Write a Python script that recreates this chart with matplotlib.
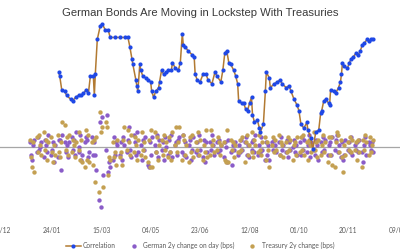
import matplotlib
matplotlib.use("Agg")
import matplotlib.pyplot as plt
import matplotlib.dates as mdates
import pandas as pd

title = "German Bonds Are Moving in Lockstep With Treasuries"

# Rolling correlation (dates, values)
corr_dates = [
    "2023-01-31", "2023-02-01", "2023-02-03", "2023-02-06", "2023-02-08", "2023-02-12", "2023-02-14",
    "2023-02-17", "2023-02-20", "2023-02-23", "2023-02-25", "2023-02-28", "2023-03-02", "2023-03-04",
    "2023-03-07", "2023-03-08", "2023-03-09", "2023-03-11", "2023-03-14", "2023-03-16", "2023-03-19",
    "2023-03-22", "2023-03-24", "2023-03-29", "2023-04-03", "2023-04-08", "2023-04-11", "2023-04-13",
    "2023-04-15", "2023-04-16", "2023-04-19", "2023-04-20", "2023-04-21", "2023-04-23", "2023-04-24",
    "2023-04-26", "2023-04-29", "2023-05-01", "2023-05-04", "2023-05-05", "2023-05-07", "2023-05-09",
    "2023-05-12", "2023-05-13", "2023-05-15", "2023-05-17", "2023-05-20", "2023-05-22", "2023-05-25",
    "2023-05-26", "2023-05-29", "2023-06-01", "2023-06-03", "2023-06-05", "2023-06-06", "2023-06-08",
    "2023-06-11", "2023-06-15", "2023-06-17", "2023-06-18", "2023-06-20", "2023-06-23", "2023-06-26",
    "2023-06-29", "2023-07-01", "2023-07-05", "2023-07-08", "2023-07-10", "2023-07-14", "2023-07-16",
    "2023-07-18", "2023-07-20", "2023-07-22", "2023-07-24", "2023-07-27", "2023-07-29", "2023-07-31",
    "2023-08-01", "2023-08-04", "2023-08-06", "2023-08-08", "2023-08-10", "2023-08-12", "2023-08-14",
    "2023-08-15", "2023-08-17", "2023-08-20", "2023-08-22", "2023-08-23", "2023-08-26", "2023-08-28",
    "2023-08-29", "2023-09-01", "2023-09-02", "2023-09-06", "2023-09-09", "2023-09-12", "2023-09-14",
    "2023-09-18", "2023-09-21", "2023-09-23", "2023-09-26", "2023-09-29", "2023-10-01", "2023-10-03",
    "2023-10-06", "2023-10-09", "2023-10-10", "2023-10-13", "2023-10-15", "2023-10-18", "2023-10-21",
    "2023-10-23", "2023-10-24", "2023-10-26", "2023-10-28", "2023-10-31", "2023-11-01", "2023-11-02",
    "2023-11-05", "2023-11-07", "2023-11-10", "2023-11-12", "2023-11-13", "2023-11-14", "2023-11-16",
    "2023-11-19", "2023-11-21", "2023-11-23", "2023-11-25", "2023-11-28", "2023-11-30", "2023-12-02",
    "2023-12-04", "2023-12-06", "2023-12-09", "2023-12-11", "2023-12-13", "2023-12-15",
]
corr_values = [
    0.74, 0.72, 0.65, 0.64, 0.62, 0.60, 0.59,
    0.61, 0.62, 0.62, 0.63, 0.65, 0.63, 0.72,
    0.72, 0.62, 0.73, 0.91, 0.98, 0.99, 0.96,
    0.96, 0.92, 0.92, 0.92, 0.92, 0.92, 0.87,
    0.81, 0.78, 0.70, 0.67, 0.64, 0.78, 0.75,
    0.72, 0.71, 0.70, 0.69, 0.64, 0.61, 0.64,
    0.66, 0.69, 0.75, 0.73, 0.74, 0.75, 0.75,
    0.79, 0.76, 0.75, 0.79, 0.94, 0.88, 0.87,
    0.85, 0.83, 0.82, 0.73, 0.70, 0.69, 0.73,
    0.73, 0.70, 0.68, 0.74, 0.72, 0.69, 0.75,
    0.84, 0.85, 0.79, 0.78, 0.75, 0.72, 0.68,
    0.59, 0.58, 0.58, 0.55, 0.54, 0.58, 0.61,
    0.52, 0.48, 0.49, 0.45, 0.43, 0.47, 0.64,
    0.74, 0.71, 0.66, 0.68, 0.69, 0.70, 0.68,
    0.66, 0.67, 0.64, 0.60, 0.57, 0.54, 0.47,
    0.45, 0.48, 0.44, 0.40, 0.34, 0.43, 0.44,
    0.53, 0.54, 0.59, 0.60, 0.58, 0.57, 0.65,
    0.64, 0.63, 0.66, 0.69, 0.73, 0.79, 0.77,
    0.76, 0.79, 0.81, 0.82, 0.84, 0.83, 0.85,
    0.88, 0.89, 0.91, 0.90, 0.91, 0.91,
]

# Daily changes (bps), business days 2023-01-02 .. 2023-12-15
german_change = [
    2, -3, -5, 1, 3, -2, 4, -1, 0, 2, -4, 3, 1, -2, 5, -3, -1, 2, -6, 1, -4, 3,          # Jan
    3, -9, 5, 2, -2, 1, -4, 2, 4, -1, 3, -3, 6, 0, -2, 5, -5, -3, 2, 4,                  # Feb
    3, -4, -2, 4, -3, 2, -3, -9, -21, 10, -24, 12, -11, -1, 13, -10, -6, -8, -5, 4, -3, 2, 1,  # Mar
    -3, 2, -5, 4, 1, -2, 3, 8, -1, -4, 5, 2, -3, 6, -2, 1, -5, 3, -1, 4,                 # Apr
    -7, -8, 2, -3, 4, 1, -2, 5, -4, 3, -1, 2, -5, 4, 0, -3, 3, -2, 5, -4, 1, 2, -3,      # May
    3, 4, -2, 5, -3, 2, -4, 1, 3, -5, -1, 4, -2, 2, -3, 5, -1, -4, 3, -6, 2, -2,         # Jun
    2, -1, 5, 1, -3, 2, -2, 3, -1, 1, -4, 2, 0, -6, 3, -2, -7, 1, -1, 2, -3,             # Jul
    1, -2, 3, -1, 2, 4, -3, 1, -4, 2, -1, 3, -2, 5, -3, 1, -2, 4, -1, -5, 2, -3, 1,      # Aug
    -5, 2, -1, 3, 1, -2, 2, -3, 4, -1, 1, -2, 3, -4, 2, -1, 0, 3, -2, 1, -3,             # Sep
    2, -3, 4, -1, 3, -2, 1, 5, -4, 2, -1, -3, 3, 1, -5, 2, -2, 4, -1, 3, -3, 1,          # Oct
    2, -3, 4, -1, 3, 5, -2, 1, -4, 2, -5, -3, 3, -1, 2, -2, 4, -3, 1, -1, 2, -2,         # Nov
    3, -2, -6, 1, 4, -3, 2, 1, -1, 2, -2,                                                # Dec
]
treasury_change = [
    3, -4, -8, 2, -10, 4, -2, 5, 1, -3, 6, -1, 3, -5, 2, 4, -2, -6, 1, -3, 5, -2,        # Jan
    -4, 2, 10, 9, -1, 4, -3, 5, -2, 3, 1, -4, 2, 6, -1, -5, 3, -6, -8, 7,                # Feb
    -5, 5, -6, 2, -7, 3, -14, 4, -18, 14, 6, 8, -16, 10, 8, -11, -4, -5, 2, -4, -2, -7, 3,  # Mar
    -4, -2, -7, 3, 8, -1, 7, 2, -3, 5, -2, 4, 1, -5, 3, -3, 6, -1, 2, -4,                # Apr
    -6, 3, -8, 7, -8, 6, -2, 4, -5, 1, 3, -3, 5, -1, 2, -4, 4, -2, -5, 6, 1, 8, -2,      # May
    2, 8, -5, 5, 3, -3, 1, -6, 4, -2, 5, -4, 2, -1, 6, -3, 3, -5, 1, -2, 7, -4,          # Jun
    -3, 7, 1, 3, -2, -1, 4, 2, -3, 1, 2, -5, -6, 7, -6, 3, -1, 2, -4, 1, -2,             # Jul
    -2, 3, -1, 4, -6, 2, 5, -3, 1, -2, 6, -4, 3, 1, -2, 5, -1, -3, 2, 4, -5, 2, -1,      # Aug
    -8, 1, 4, -2, 3, -1, 5, -3, 2, 1, -4, 2, -2, 4, -1, 3, -5, 1, 2, -3, 4,              # Sep
    -2, 4, -1, 5, -3, 2, -5, 3, 1, -2, 6, -1, 2, -4, 3, -3, 1, 5, -2, 2, -6, 4,          # Oct
    -3, 4, -7, -8, 2, 6, 5, -2, 3, -4, -10, 1, -3, 2, -1, 4, -2, 3, -1, 2, -5, 3,        # Nov
    -2, -8, 3, -1, 5, 2, -3, 4, -2, 1, 3,                                                # Dec
]
change_dates = pd.bdate_range("2023-01-02", "2023-12-15")

tick_labels_dates = ["2022-12-05", "2023-01-24", "2023-03-15", "2023-05-04", "2023-06-23",
                     "2023-08-12", "2023-10-01", "2023-11-20", "2024-01-09"]

labels = ["Correlation", "German 2y change on day (bps)", "Treasury 2y change (bps)"]

C_LINE = "#b27a32"
C_MARK = "#1f48e6"
C_GER = "#8a5cc8"
C_UST = "#c4a052"

fig = plt.figure(figsize=(4, 2.5), dpi=100)
ax = fig.add_axes([0.0, 0.14, 1.0, 0.772])
ax2 = ax.twinx()

cd = pd.to_datetime(change_dates)
ax.axhline(0, color="#a6a6a6", lw=0.9, zorder=1)
s1 = ax.scatter(cd, german_change, s=10, color=C_GER, linewidths=0, zorder=2, label=labels[1])
s2 = ax.scatter(cd, treasury_change, s=10, color=C_UST, linewidths=0, zorder=3, label=labels[2])

l1, = ax2.plot(pd.to_datetime(corr_dates), corr_values, color=C_LINE, lw=1.1,
               marker="o", markersize=3.0, markerfacecolor=C_MARK, markeredgecolor=C_MARK,
               markeredgewidth=0, label=labels[0])

ax.set_ylim(-27.2, 50)
ax2.set_ylim(0, 1)
ax.set_xlim(pd.Timestamp("2022-12-02 14:00"), pd.Timestamp("2024-01-11 05:00"))

for a in (ax, ax2):
    for sp in a.spines.values():
        sp.set_visible(False)
    a.set_yticks([])
ax.set_xticks(pd.to_datetime(tick_labels_dates))
ax.xaxis.set_major_formatter(mdates.DateFormatter("%d/%m"))
ax.tick_params(axis="x", length=0, pad=8.5, labelsize=4.8, labelcolor="#595959")
for t in ax.get_xticklabels():
    t.set_fontfamily("Lato")

fig.text(0.5, 0.948, title, ha="center", va="center", fontsize=8.1,
         family="Liberation Sans", color="#3a3a3a")

leg = fig.legend([l1, s1, s2], labels, loc="center", bbox_to_anchor=(0.5, 0.018), ncol=3,
                 frameon=False, prop={"family": "Lato", "size": 4.8}, labelcolor="#595959",
                 handlelength=2.2, handletextpad=0.3, columnspacing=1.6, markerscale=1.0,
                 borderpad=0, scatterpoints=1)

fig.savefig("out.png", dpi=100)
